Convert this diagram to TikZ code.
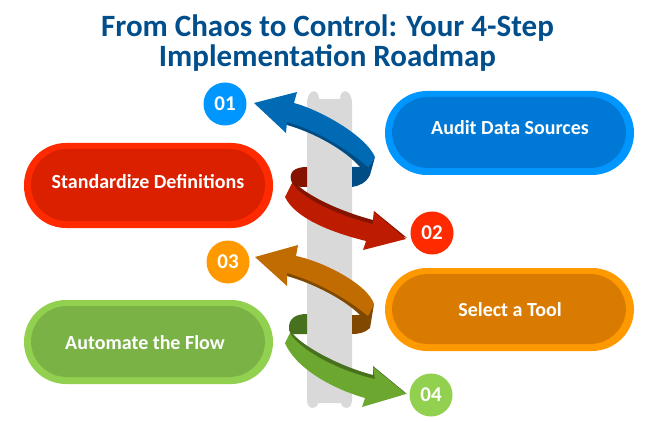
\documentclass[tikz,border=0pt]{standalone}
\usepackage{fontspec}
\setmainfont{Carlito}
\definecolor{titlec}{HTML}{004E8C}
\definecolor{pillar}{HTML}{D9D9D9}
\definecolor{bo}{HTML}{0096FF}\definecolor{bi}{HTML}{0079D6}\definecolor{bm}{HTML}{006AB4}\definecolor{bd}{HTML}{004C85}
\definecolor{ro}{HTML}{FF2A00}\definecolor{ri}{HTML}{DB2000}\definecolor{rm}{HTML}{BD1C00}\definecolor{rd}{HTML}{841400}
\definecolor{oo}{HTML}{FF9900}\definecolor{oi}{HTML}{D97B00}\definecolor{om}{HTML}{C06C00}\definecolor{od}{HTML}{804800}
\definecolor{go}{HTML}{92D050}\definecolor{gi}{HTML}{7AB245}\definecolor{gm}{HTML}{6CA82F}\definecolor{gd}{HTML}{47701F}
\tikzset{
 pilltext/.style={font=\bfseries\fontsize{20}{24}\selectfont,text=white,inner sep=0pt},
 numc/.style={circle,inner sep=0pt,minimum size=43pt,font=\bfseries\fontsize{21}{25}\selectfont,text=white},
 titlet/.style={font=\bfseries\fontsize{31}{37}\selectfont,text=titlec,inner sep=0pt,align=center}
}
\newcommand{\pillshape}[6]{% x1 y1 x2 y2 outer inner
 \fill[#5,rounded corners=42pt] (#1,#2) rectangle (#3,#4);
 \fill[#6,rounded corners=36pt] (#1+7,#2+6) rectangle (#3-8,#4-7);
}
\begin{document}
\begin{tikzpicture}[x=1pt,y=-1pt]
\useasboundingbox (0,0) rectangle (661,422);
\fill[white] (0,0) rectangle (661,422);
% pillar
\fill[pillar] (307,104) .. controls (307,88) and (319,88) .. (319,99) -- (340,99)
 .. controls (340,88) and (352,88) .. (352,104) -- (352,400)
 .. controls (352,410) and (342,410) .. (341,403) -- (318,403)
 .. controls (317,410) and (307,410) .. (307,400) -- cycle;
% pills
\pillshape{385}{91}{634}{175}{bo}{bi}
\pillshape{24}{143}{273}{228}{ro}{ri}
\pillshape{385}{268}{634}{351}{oo}{oi}
\pillshape{24}{300}{273}{384}{go}{gi}
\node[pilltext] (audit) at (510,128) {Audit Data Sources};
\node[pilltext] (std) at (148,182) {Standardize Definitions};
\node[pilltext] (sel) at (510,310) {Select a Tool};
\node[pilltext] (auto) at (145,343) {Automate the Flow};
% blue ribbon
\fill[bd] (352,167) -- (368,167) -- (375,157) -- (370,175) .. controls (366,183) and (359,186) .. (352,187) -- cycle;
\fill[bd] (287,122) -- (320,120) -- (368,160) -- (368,167) -- (360,167) .. controls (345,150) and (315,133) .. (287,125) -- cycle;
\fill[bm] (254,103) -- (297,92) -- (294,103) .. controls (320,110) and (365,135) .. (375,157) -- (368,167) .. controls (345,147) and (315,130) .. (287,122) -- (286,133) -- cycle;
% red ribbon
\fill[rd] (307,167) .. controls (296,167) and (289,171) .. (291,180) -- (293,184) .. controls (296,187) and (300,187) .. (307,187) -- cycle;
\fill[rd] (291,178) .. controls (300,192) and (335,210) .. (373,220) -- (374,211) -- (407,238) -- (373,226) .. controls (335,218) and (300,198) .. (292,183) -- cycle;
\fill[rm] (292,183) .. controls (300,197) and (335,215) .. (373,224) -- (374,212) -- (406,239) -- (363,250) -- (366,241)
 .. controls (330,232) and (295,218) .. (285,197) -- cycle;
% orange ribbon
\fill[od] (352,315) -- (368,315) -- (374,304) -- (370,328) .. controls (365,333) and (358,334) .. (352,334) -- cycle;
\fill[od] (287,273) -- (320,270) -- (368,308) -- (368,316) -- (360,315) .. controls (345,300) and (315,284) .. (287,276) -- cycle;
\fill[om] (255,257) -- (298,245) -- (296,256) .. controls (325,262) and (368,285) .. (374,304) -- (368,316) .. controls (345,297) and (315,281) .. (287,273) -- (287,286) -- cycle;
% green ribbon
\fill[gd] (307,314) .. controls (296,314) and (288,318) .. (289,330) -- (292,334) -- (307,334) -- cycle;
\fill[gd] (289,329) .. controls (297,343) and (335,365) .. (373,375) -- (373,366) -- (407,394) -- (375,381) .. controls (335,375) and (300,355) .. (291,336) -- cycle;
\fill[gm] (290,333) .. controls (298,348) and (335,370) .. (375,379) -- (373,367) -- (406,394) -- (362,407) -- (365,398)
 .. controls (330,388) and (295,367) .. (285,343) -- cycle;
% circles
\node[numc,fill=bo] (n1) at (225,104) {01};
\node[numc,fill=ro] (n2) at (432,233) {02};
\node[numc,fill=oo] (n3) at (228,262) {03};
\node[numc,fill=go] (n4) at (431,395) {04};
% title
\node[titlet] (t1) at (327.5,28) {From Chaos to Control: Your 4-Step};
\node[titlet] (t2) at (327.5,58) {Implementation Roadmap};
\end{tikzpicture}
\end{document}
